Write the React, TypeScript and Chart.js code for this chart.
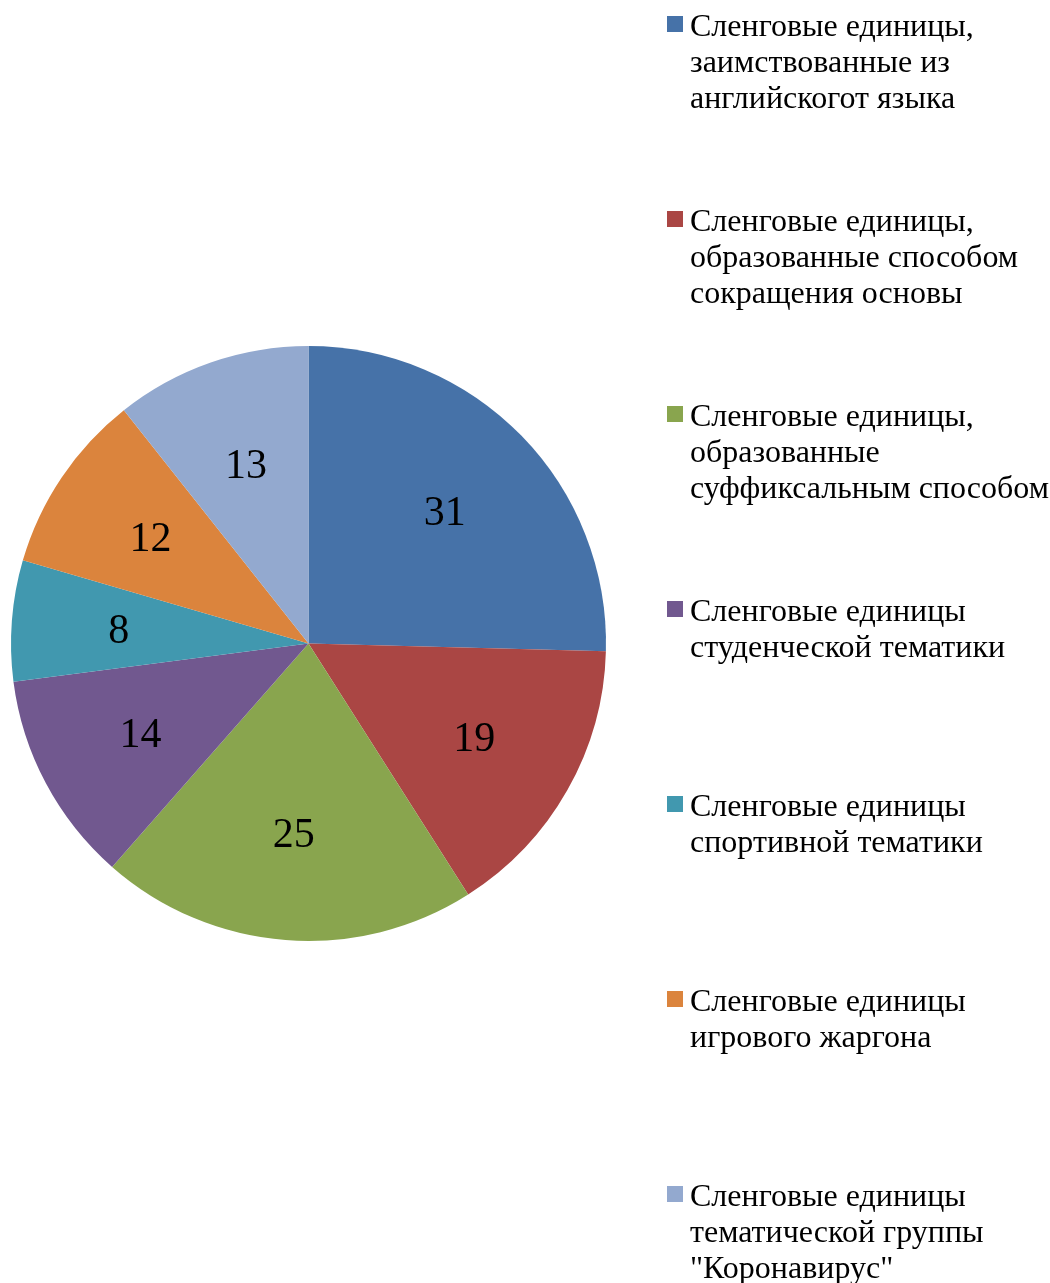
import React, { useEffect, useRef } from "react";
import { Chart, registerables } from "chart.js";

Chart.register(...registerables);

const categories: string[] = [
  "Сленговые единицы,\nзаимствованные из\nанглийскогот языка",
  "Сленговые единицы,\nобразованные способом\nсокращения основы",
  "Сленговые единицы,\nобразованные\nсуффиксальным способом",
  "Сленговые единицы\nстуденческой тематики",
  "Сленговые единицы\nспортивной тематики",
  "Сленговые единицы\nигрового жаргона",
  "Сленговые единицы\nтематической группы\n\"Коронавирус\"",
];

const values: number[] = [31, 19, 25, 14, 8, 12, 13];

const colors: string[] = [
  "#4672A8",
  "#AA4644",
  "#89A54E",
  "#71588F",
  "#4198AF",
  "#DB843D",
  "#93A9CF",
];

const FONT = "'Liberation Serif', 'Times New Roman', serif";

const labelsPlugin = {
  id: "sliceLabels",
  afterDatasetsDraw(chart: any) {
    const ctx = chart.ctx;
    const meta = chart.getDatasetMeta(0);
    ctx.save();
    ctx.font = `42px ${FONT}`;
    ctx.fillStyle = "#000";
    ctx.textAlign = "center";
    ctx.textBaseline = "alphabetic";
    meta.data.forEach((arc: any, i: number) => {
      const p = arc.getProps(["x", "y", "startAngle", "endAngle", "outerRadius"], true);
      const mid = (p.startAngle + p.endAngle) / 2;
      const r = p.outerRadius * 0.64;
      const x = p.x + Math.cos(mid) * r;
      const y = p.y + Math.sin(mid) * r;
      ctx.fillText(String(chart.data.datasets[0].data[i]), x, y + 14);
    });
    ctx.restore();
  },
};

const legendPlugin = {
  id: "customLegend",
  afterDraw(chart: any) {
    const ctx = chart.ctx;
    const labels = chart.data.labels as string[];
    const bg = chart.data.datasets[0].backgroundColor as string[];
    ctx.save();
    ctx.font = `32px ${FONT}`;
    ctx.textAlign = "left";
    ctx.textBaseline = "alphabetic";
    labels.forEach((lab, i) => {
      const base = 36 + i * 195;
      ctx.fillStyle = bg[i];
      ctx.fillRect(667, base - 20, 16, 16);
      ctx.fillStyle = "#000";
      lab.split("\n").forEach((line, k) => {
        ctx.fillText(line, 690, base + k * 36);
      });
    });
    ctx.restore();
  },
};

export default function App() {
  const ref = useRef<HTMLCanvasElement | null>(null);
  useEffect(() => {
    if (!ref.current) return;
    const chart = new Chart(ref.current, {
      type: "pie",
      data: {
        labels: categories,
        datasets: [
          {
            data: values,
            backgroundColor: colors,
            borderWidth: 0,
          },
        ],
      },
      options: {
        animation: false,
        responsive: false,
        maintainAspectRatio: false,
        layout: { padding: { left: 11, top: 346, right: 444, bottom: 342 } },
        plugins: {
          legend: { display: false },
          tooltip: { enabled: false },
        },
      },
      plugins: [labelsPlugin, legendPlugin],
    });
    return () => chart.destroy();
  }, []);
  return (
    <div style={{ position: "absolute", left: 0, top: 0, width: 1050, height: 1283, background: "#fff" }}>
      <canvas ref={ref} width={1050} height={1283} style={{ width: 1050, height: 1283, display: "block" }} />
    </div>
  );
}
